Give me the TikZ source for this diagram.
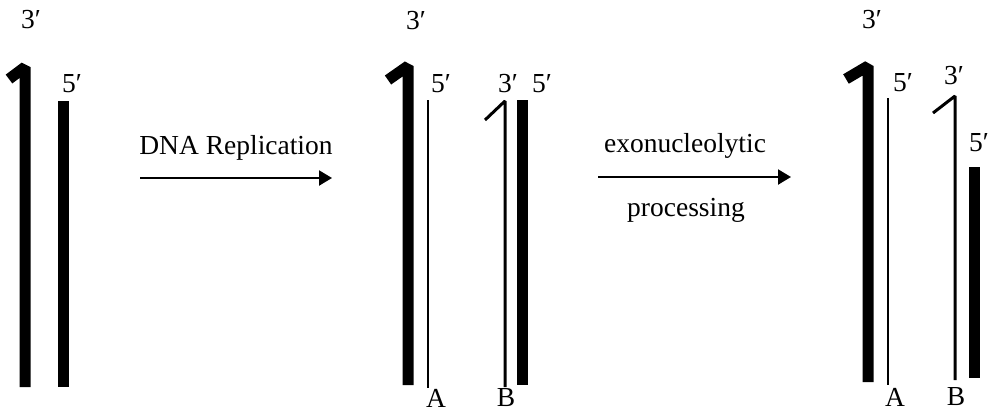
\documentclass[tikz,border=0pt]{standalone}
\usepackage{fontspec}
\setmainfont{Liberation Serif}
\usetikzlibrary{arrows.meta}

\begin{document}
\begin{tikzpicture}[
  x=1pt, y=-1pt,
  heavy/.style={line width=11pt, line join=bevel},
  light/.style={line width=2pt, line join=bevel},
  hooklight/.style={line width=3pt, line join=bevel},
  endlab/.style={font=\fontsize{27.5}{31}\selectfont, inner sep=0pt},
  steplab/.style={font=\fontsize{27.5}{31}\selectfont, inner sep=0pt},
  flow/.style={-{Triangle[length=13pt,width=15pt]}, line width=2.2pt}
]
\useasboundingbox (0,0) rectangle (1003,413);

%% ---------- stage 1: parental duplex ----------
\draw[heavy] (9,79) -- (25,67) -- (25,387);
\draw[heavy] (63,101) -- (63,387);
\node[endlab] (p3a) at (31,20) {3′};
\node[endlab] (p5a) at (72,84) {5′};

%% ---------- arrow 1 ----------
\coordinate (r1s) at (140,178);
\coordinate (r1e) at (332,178);
\draw[flow] (r1s) -- (r1e);
\node[steplab] (rep) at (236,148) {DNA Replication};

%% ---------- stage 2: after replication ----------
\draw[heavy] (388,80) -- (408,66) -- (408,385);
\draw[light] (428,100) -- (428,388);
\draw[hooklight] (485,120) -- (505,101) -- (505,387);
\draw[heavy] (522,100) -- (522,385);
\node[endlab] (q3a) at (416,21) {3′};
\node[endlab] (q5a) at (441,84) {5′};
\node[endlab] (q3b) at (508,84) {3′};
\node[endlab] (q5b) at (542,84) {5′};
\node[endlab] (qA) at (436,398) {A};
\node[endlab] (qB) at (506,398) {B};

%% ---------- arrow 2 ----------
\coordinate (r2s) at (598,177);
\coordinate (r2e) at (791,177);
\draw[flow] (r2s) -- (r2e);
\node[steplab] (exo) at (685,146) {exonucleolytic};
\node[steplab] (proc) at (686,210) {processing};

%% ---------- stage 3: after processing ----------
\draw[heavy] (846,79) -- (868,66) -- (868,382);
\draw[light] (888,98) -- (888,385);
\draw[hooklight] (933,113) -- (955,96) -- (955,380);
\draw[heavy] (974,167) -- (974,378);
\node[endlab] (s3a) at (872,20) {3′};
\node[endlab] (s5a) at (903,83) {5′};
\node[endlab] (s3b) at (954,76) {3′};
\node[endlab] (s5b) at (979,143) {5′};
\node[endlab] (sA) at (895,397) {A};
\node[endlab] (sB) at (956,397) {B};

\end{tikzpicture}
\end{document}
